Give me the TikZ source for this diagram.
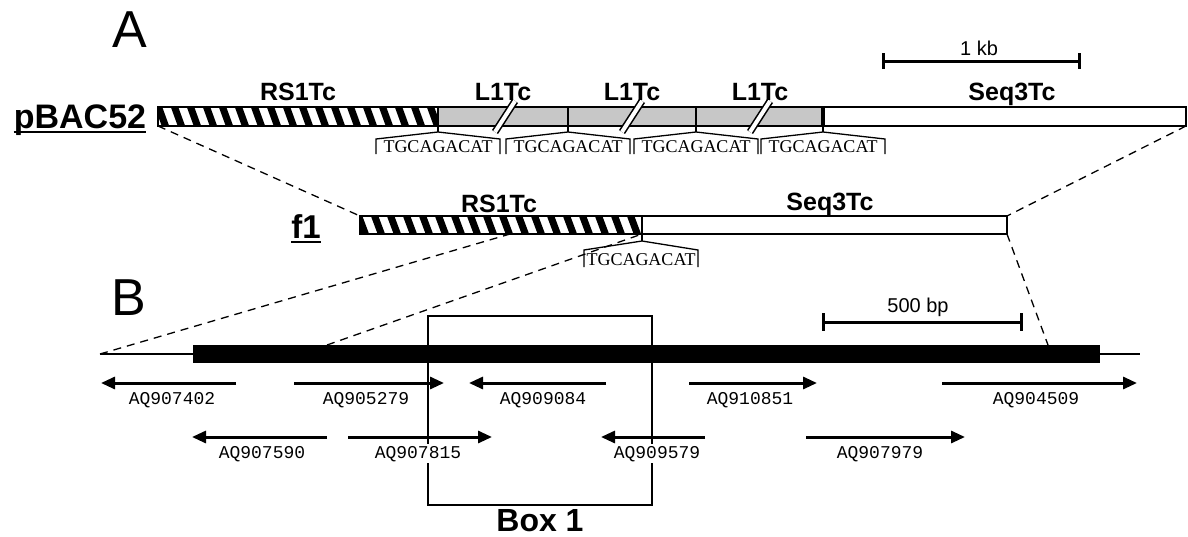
\documentclass[tikz,border=0pt]{standalone}
\usepackage{fontspec}
\setmainfont{Liberation Sans}
\newfontfamily\serifTS{Liberation Serif}
\newfontfamily\monoTS{Liberation Mono}
\usetikzlibrary{arrows.meta}
\begin{document}
\begin{tikzpicture}[x=1pt,y=-1pt,
  lbl/.style={font=\fontsize{25}{28}\selectfont\bfseries, anchor=base, inner sep=0pt},
  namelbl/.style={font=\fontsize{34}{38}\selectfont\bfseries, anchor=base, inner sep=0pt},
  biglbl/.style={font=\fontsize{52}{60}\selectfont, anchor=base, inner sep=0pt},
  scalelbl/.style={font=\fontsize{20}{22}\selectfont, anchor=base, inner sep=0pt},
  seqlbl/.style={font=\serifTS\fontsize{18}{20}\selectfont, anchor=base, inner sep=0pt},
  aq/.style={font=\monoTS\fontsize{18}{20}\selectfont, anchor=base, fill=white, inner sep=2pt},
  est/.style={line width=3pt, -{Triangle[length=14pt,width=12pt]}},
  dl/.style={dash pattern=on 8pt off 6pt, line width=1.3pt},
  barframe/.style={line width=2.8pt},
  junc/.style={line width=2.2pt},
  brk/.style={line width=1.6pt, double=white, double distance=4pt},
  tsd/.style={line width=1.3pt},
  hatch/.style={line width=7pt},
  scalebar/.style={line width=3pt}
]
\useasboundingbox (0,0) rectangle (1188,536);

% ---------- key coordinates ----------
\coordinate (pbBL) at (158,126);
\coordinate (pbBR) at (1186,126);
\coordinate (f1TL) at (360,216);
\coordinate (f1TR) at (1007,216);
\coordinate (f1cut) at (510,234);
\coordinate (f1junc) at (642,234);
\coordinate (f1BR) at (1007,234);
\coordinate (thinL) at (100,354);
\coordinate (thinR) at (1140,354);
\coordinate (barA) at (327,345);
\coordinate (barB) at (1048,345);

% ---------- dashed zoom lines ----------
\draw[dl] (pbBL) -- (f1TL);
\draw[dl] (pbBR) -- (f1TR);
\draw[dl] (thinL) -- (f1cut);
\draw[dl] (barA) -- (f1junc);
\draw[dl] (f1BR) -- (barB);

% ---------- panel labels ----------
\node[biglbl] (panA) at (130,47) {A};
\node[biglbl] (panB) at (129,315) {B};

% ---------- pBAC52 ----------
\node[namelbl] (pbac) at (80,128) {pBAC52};
\draw[line width=2pt] ([yshift=-4pt]pbac.base west) -- ([yshift=-4pt]pbac.base east);

\fill[white] (158,107) rectangle (1186,126);
\begin{scope}
  \clip (158,107) rectangle (438,126);
  \foreach \x in {140,156,...,460} \draw[hatch] (\x,100) -- (\x+12,133);
\end{scope}
\fill[black!22] (438,107) rectangle (823,126);
\draw[barframe] (158,107) rectangle (1186,126);
\foreach \x in {438,568,696} \draw[junc] (\x,107) -- (\x,126);
\draw[line width=3.5pt] (823,107) -- (823,126);
\foreach \x in {505,632,760} \draw[brk] (\x-10,132) -- (\x+10,101);

\node[lbl] (rsA) at (298,100) {RS1Tc};
\node[lbl] (l1a) at (503,100) {L1Tc};
\node[lbl] (l1b) at (632,100) {L1Tc};
\node[lbl] (l1c) at (760,100) {L1Tc};
\node[lbl] (sqA) at (1012,100) {Seq3Tc};

\foreach \t [count=\i] in {438,568,696,823} {
  \draw[tsd] (\t,126) -- (\t,132);
  \draw[tsd] (\t-62,154) -- (\t-62,139) -- (\t,132) -- (\t+62,139) -- (\t+62,154);
  \node[seqlbl] (tsdA\i) at (\t,152) {TGCAGACAT};
}

% ---------- 1 kb scale ----------
\coordinate (kbL) at (883,61);
\coordinate (kbR) at (1079,61);
\draw[scalebar] (kbL) -- (kbR);
\draw[scalebar] (883,53) -- (883,69);
\draw[scalebar] (1079,53) -- (1079,69);
\node[scalelbl] (kb) at (979,55) {1 kb};

% ---------- f1 ----------
\node[namelbl, font=\fontsize{33}{36}\selectfont\bfseries] (f1) at (306,238) {f1};
\draw[line width=2pt] ([yshift=-4pt]f1.base west) -- ([yshift=-4pt]f1.base east);

\fill[white] (360,216) rectangle (1007,234);
\begin{scope}
  \clip (360,216) rectangle (642,234);
  \foreach \x in {340,356,...,660} \draw[hatch] (\x,209) -- (\x+12,241);
\end{scope}
\draw[barframe] (360,216) rectangle (1007,234);
\draw[junc] (642,216) -- (642,234);

\node[lbl] (rsF) at (499,212) {RS1Tc};
\node[lbl] (sqF) at (830,210) {Seq3Tc};

\draw[tsd] (642,234) -- (642,241);
\draw[tsd] (584,267) -- (584,250) -- (642,241) -- (698,250) -- (698,267);
\node[seqlbl] (tsdF) at (641,265) {TGCAGACAT};

% ---------- B: sequence ----------
\draw[line width=2pt] (thinL) -- (thinR);
\fill (193,345) rectangle (1100,363);

% 500 bp scale
\coordinate (bpL) at (823,322);
\coordinate (bpR) at (1021,322);
\draw[scalebar] (bpL) -- (bpR);
\draw[scalebar] (823,313) -- (823,331);
\draw[scalebar] (1021,313) -- (1021,331);
\node[scalelbl] (bp) at (918,312) {500 bp};

% Box 1
\draw[line width=2.5pt] (428,316) rectangle (652,505);
\node[namelbl, font=\fontsize{32}{36}\selectfont\bfseries] (box) at (540,531) {Box 1};

% ESTs: name / start / end / y / label x
\foreach \n/\xa/\xb/\yy/\lx in {
  AQ907402/236/101/383/172,
  AQ905279/294/444/383/366,
  AQ909084/606/469/383/543,
  AQ910851/689/817/383/750,
  AQ904509/942/1137/383/1036,
  AQ907590/327/192/437/262,
  AQ907815/348/492/437/418,
  AQ909579/705/601/437/657,
  AQ907979/806/965/437/880} {
  \coordinate (\n-s) at (\xa,\yy);
  \coordinate (\n-e) at (\xb,\yy);
  \node[aq] (\n) at (\lx,\yy+21) {\n};
}
\foreach \n in {AQ907402,AQ905279,AQ909084,AQ910851,AQ904509,
                AQ907590,AQ907815,AQ909579,AQ907979}
  \draw[est] (\n-s) -- (\n-e);

\end{tikzpicture}
\end{document}
